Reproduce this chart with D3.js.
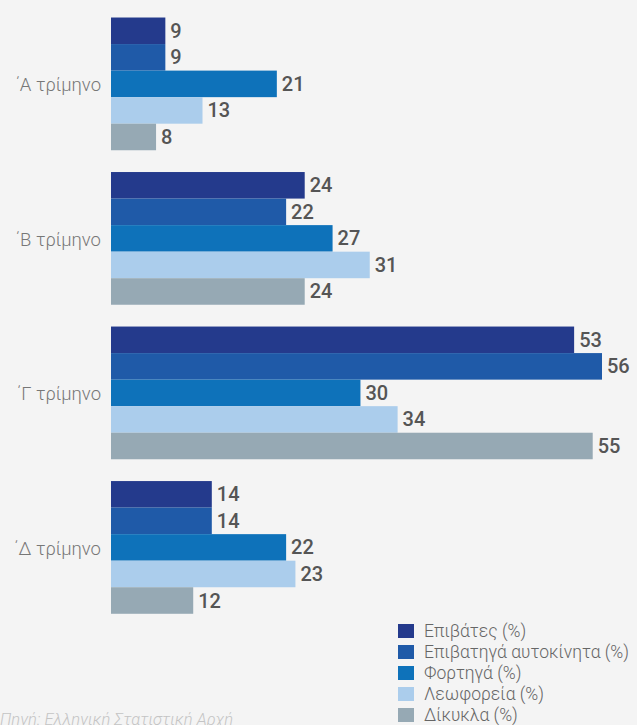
<!DOCTYPE html>
<html>
<head>
<meta charset="utf-8">
<script src="https://cdn.jsdelivr.net/npm/d3@7"></script>
<style>
  html, body { margin: 0; padding: 0; background: #f4f4f4; }
  svg { display: block; font-family: Roboto, "Noto Sans", sans-serif; }
</style>
</head>
<body>
<div id="chart"></div>
<script>
// quarters (rows) and the five vehicle series
var quarters = ['΄Α τρίμηνο', '΄Β τρίμηνο', '΄Γ τρίμηνο', '΄Δ τρίμηνο'];
var seriesNames = ['Επιβάτες (%)', 'Επιβατηγά αυτοκίνητα (%)', 'Φορτηγά (%)', 'Λεωφορεία (%)', 'Δίκυκλα (%)'];
var seriesColors = ['#243a8c', '#1f5aa8', '#0e72ba', '#abcdec', '#96a9b4'];

var passengers = [9, 24, 53, 14];
var cars = [9, 22, 56, 14];
var trucks = [21, 27, 30, 22];
var buses = [13, 31, 34, 23];
var motorbikes = [8, 24, 55, 12];

var sourceText = 'Πηγή: Ελληνική Στατιστική Αρχή';

var width = 637, height = 725;
var allSeries = [passengers, cars, trucks, buses, motorbikes];

var svg = d3.select('#chart').append('svg')
    .attr('width', width)
    .attr('height', height);

// the original axis does not start at zero
var x = d3.scaleLinear()
    .domain([3.15, 56])
    .range([111, 602]);

var y0 = d3.scaleBand()
    .domain(quarters)
    .range([6.7, 624.6])
    .paddingInner(0.141)
    .paddingOuter(0.07);

var y1 = d3.scaleBand()
    .domain(d3.range(seriesNames.length))
    .range([0, y0.bandwidth()]);

var groups = svg.append('g').selectAll('g')
    .data(quarters)
    .enter().append('g')
    .attr('transform', function(d) { return 'translate(0,' + y0(d) + ')'; });

groups.append('text')
    .attr('x', 101)
    .attr('y', y0.bandwidth() / 2 + 7.5)
    .attr('text-anchor', 'end')
    .attr('fill', '#777')
    .attr('font-weight', 300)
    .attr('font-size', 18.5)
    .text(function(d) { return d; });

var cells = groups.selectAll('.bar')
    .data(function(d, qi) {
        return allSeries.map(function(s, si) { return { s: si, v: s[qi] }; });
    })
    .enter();

cells.append('rect')
    .attr('class', 'bar')
    .attr('x', x.range()[0])
    .attr('y', function(d) { return y1(d.s); })
    .attr('width', function(d) { return x(d.v) - x.range()[0]; })
    .attr('height', y1.bandwidth())
    .attr('fill', function(d) { return seriesColors[d.s]; });

cells.append('text')
    .attr('x', function(d) { return x(d.v) + 5; })
    .attr('y', function(d) { return y1(d.s) + y1.bandwidth() / 2 + 7; })
    .attr('fill', '#555')
    .attr('font-weight', 500)
    .attr('font-size', 20)
    .text(function(d) { return d.v; });

// legend
var legend = svg.append('g')
    .attr('transform', 'translate(398,624)');

var items = legend.selectAll('g')
    .data(seriesNames)
    .enter().append('g')
    .attr('transform', function(d, i) { return 'translate(0,' + (i * 21) + ')'; });

items.append('rect')
    .attr('width', 16)
    .attr('height', 14)
    .attr('fill', function(d, i) { return seriesColors[i]; });

items.append('text')
    .attr('x', 26)
    .attr('y', 7)
    .attr('dy', '0.35em')
    .attr('fill', '#666')
    .attr('font-weight', 300)
    .attr('font-size', 17.5)
    .text(function(d) { return d; });

svg.append('text')
    .attr('x', 0)
    .attr('y', 725)
    .attr('fill', '#c4c4c4')
    .attr('font-style', 'italic')
    .attr('font-weight', 300)
    .attr('font-size', 16.5)
    .text(sourceText);
</script>
</body>
</html>
